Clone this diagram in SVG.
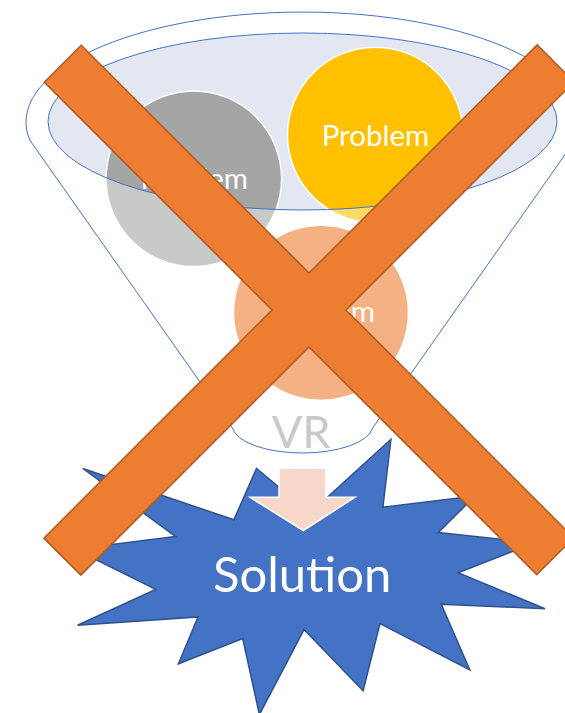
<svg xmlns="http://www.w3.org/2000/svg" width="565" height="713" viewBox="0 0 565 713">
  <style>
    .lbl { font-family: Lato, "Open Sans", "Liberation Sans", sans-serif; text-anchor: middle; fill: #FFFFFF; }
    .ball { stroke: #FFFFFF; stroke-width: 1.5; }
    .rim { fill: none; stroke: #4472C4; stroke-width: 1; }
  </style>

  <!-- funnel mouth (drawn first so the problem circles sit inside it) -->
  <g id="funnel-mouth">
    <ellipse cx="302.5" cy="121.5" rx="254.5" ry="88.5" fill="#E2E7F2"/>
  </g>

  <!-- problems dropped into the funnel -->
  <g id="problem-grey">
    <circle class="ball" cx="193.8" cy="178.8" r="87.8" fill="#A5A5A5"/>
    <text class="lbl" x="194.3" y="189" font-size="29.5">Problem</text>
  </g>
  <g id="problem-yellow">
    <circle class="ball" cx="375.3" cy="135" r="87.8" fill="#FFC000"/>
    <text class="lbl" x="375.5" y="146" font-size="29.5">Problem</text>
  </g>
  <g id="problem-orange">
    <circle class="ball" cx="321" cy="312.8" r="87.5" fill="#ED7D31"/>
    <text class="lbl" x="321.3" y="322" font-size="29.5">Problem</text>
  </g>

  <!-- label at the funnel spout -->
  <g id="vr">
    <text class="lbl" x="301.2" y="448" font-size="45" style="fill:#A5A5A5">VR</text>
  </g>

  <!-- funnel body: translucent white, mouth left open -->
  <g id="funnel-body">
    <path fill="#FFFFFF" fill-opacity="0.4" fill-rule="evenodd"
          d="M29.7,140 A276.5,110 0 1 1 575.3,140 L372.6,428 A70.5,28 0 0 1 232.4,428 Z
             M48,121.5 A254.5,88.5 0 1 0 557,121.5 A254.5,88.5 0 1 0 48,121.5 Z"/>
    <path class="rim" d="M29.7,140 A276.5,110 0 1 1 575.3,140 L372.6,428 A70.5,28 0 0 1 232.4,428 Z"/>
    <ellipse class="rim" cx="302.5" cy="121.5" rx="254.5" ry="88.5"/>
  </g>

  <!-- solution burst -->
  <g id="solution">
    <polygon fill="#4472C4" stroke="#2F528F" stroke-width="1.5" stroke-linejoin="miter"
             points="309.9,513.2 390.9,439.3 382.9,507.2 474.9,496.1 438.4,532.5 534,543 458.1,572.8 545,608.7 441.3,604.2 469.8,669.9 380,623.6 363.1,690.8 304,629.6 259.4,714.6 242.7,638.5 178.4,663.8 198.1,616.9 77.6,625.2 155.7,589.4 74.7,549.1 175.4,536.4 82.8,468.5 233.9,519.8 256.5,468.5"/>
    <text class="lbl" x="302.2" y="592.3" font-size="49">Solution</text>
  </g>

  <!-- flow arrow from spout to solution -->
  <g id="connectors">
    <polygon fill="#F8D7CB" stroke="#FFFFFF" stroke-width="1.5"
             points="279,468.3 325.7,468.3 325.7,497.3 355,497.3 303.3,530.5 250,497.3 279,497.3"/>
  </g>

  <!-- crossing-out mark -->
  <g id="cross">
    <polygon fill="#ED7D31" stroke="#AE5A21" stroke-width="1.5" stroke-linejoin="miter"
             points="44.25,82.25 81.25,45.25 309,273 537.15,44.85 574.15,81.85 346,310 573.75,537.75 536.75,574.75 309,347 80.85,575.15 43.85,538.15 272,310"/>
  </g>
</svg>
